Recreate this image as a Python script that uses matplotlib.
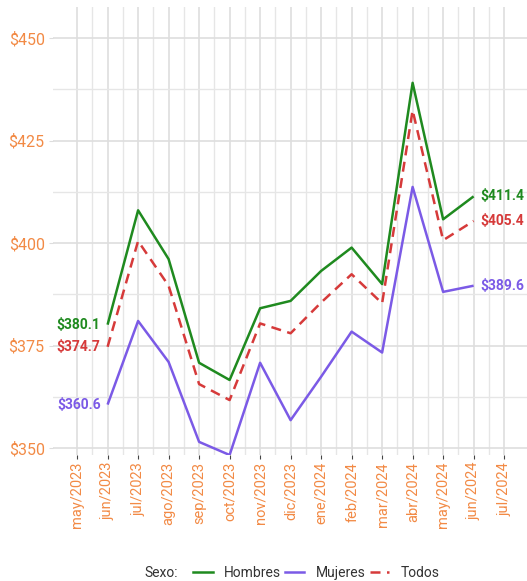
import numpy as np
import matplotlib.pyplot as plt
from matplotlib.lines import Line2D

plt.rcParams["font.family"] = ["Roboto", "DejaVu Sans"]

# meses del eje (may/2023 .. jul/2024)
meses = ["may/2023", "jun/2023", "jul/2023", "ago/2023", "sep/2023", "oct/2023",
         "nov/2023", "dic/2023", "ene/2024", "feb/2024", "mar/2024", "abr/2024",
         "may/2024", "jun/2024", "jul/2024"]

# serie desde jun/2023 hasta jun/2024
hombres = [380.1, 408.0, 396.1, 370.8, 366.6, 384.1, 385.9, 393.2, 398.9, 390.0, 439.1, 405.8, 411.4]
mujeres = [360.6, 381.0, 371.0, 351.5, 348.3, 370.8, 356.8, 367.4, 378.4, 373.3, 413.7, 388.1, 389.6]
todos = [374.7, 400.5, 389.6, 365.6, 361.7, 380.4, 378.0, 385.5, 392.4, 385.3, 432.4, 400.7, 405.4]

y_ticks = [350, 375, 400, 425, 450]

c_h = "#1f8a1f"
c_m = "#7b5ae6"
c_t = "#d63a3a"
c_eje = "#f28a45"

x = np.arange(1, 1 + len(hombres))

fig = plt.figure(figsize=(5.27, 5.81), dpi=100)
ax = fig.add_axes([53 / 527, 1 - 455 / 581, 1 - 53 / 527, (455 - 7) / 581])

ax.plot(x, hombres, color=c_h, lw=1.8, solid_capstyle="butt")
ax.plot(x, mujeres, color=c_m, lw=1.8, solid_capstyle="butt")
ax.plot(x, todos, color=c_t, lw=1.8, linestyle=(0, (4, 2.6)))

# etiquetas de inicio y fin
for serie, col in [(hombres, c_h), (mujeres, c_m), (todos, c_t)]:
    ax.annotate(f"${serie[0]:.1f}", (x[0], serie[0]), xytext=(-5, 0),
                textcoords="offset points", ha="right", va="center",
                color=col, fontsize=10, fontweight="bold")
    ax.annotate(f"${serie[-1]:.1f}", (x[-1], serie[-1]), xytext=(5, 0),
                textcoords="offset points", ha="left", va="center",
                color=col, fontsize=10, fontweight="bold")

ax.set_xlim(-0.79, 14.75)
ax.set_ylim(348.3, 457.6)
ax.set_xticks(np.arange(len(meses)))
ax.set_xticklabels(meses, rotation=90, color=c_eje, fontsize=10.5)
ax.set_xticks(np.arange(len(meses) - 1) + 0.5, minor=True)
ax.set_yticks(y_ticks)
ax.set_yticklabels([f"${v}" for v in y_ticks], color=c_eje, fontsize=11.5)
ax.set_yticks(np.arange(362.5, 450, 25), minor=True)

ax.grid(True, which="major", color="#dedede", lw=1.2)
ax.grid(True, which="minor", color="#e6e6e6", lw=1.0)
ax.set_axisbelow(True)
for s in ax.spines.values():
    s.set_visible(False)
ax.tick_params(axis="x", which="major", length=3, color="#444444", pad=2)
ax.tick_params(axis="y", which="major", length=3, color="#dddddd", pad=3)
ax.tick_params(which="minor", length=0)

# leyenda inferior
fig.text(0.275, 0.014, "Sexo:", ha="left", va="center", fontsize=10, color="#333333")
handles = [Line2D([], [], color=c_h, lw=1.8),
           Line2D([], [], color=c_m, lw=1.8),
           Line2D([], [], color=c_t, lw=1.8, linestyle=(0, (4, 2.6)))]
fig.legend(handles, ["Hombres", "Mujeres", "Todos"], loc="center",
           bbox_to_anchor=(0.6, 0.014), ncol=3, frameon=False, fontsize=10,
           handlelength=1.4, handletextpad=0.8, columnspacing=0.3,
           labelcolor="#333333")

fig.savefig("out.png", dpi=100)
